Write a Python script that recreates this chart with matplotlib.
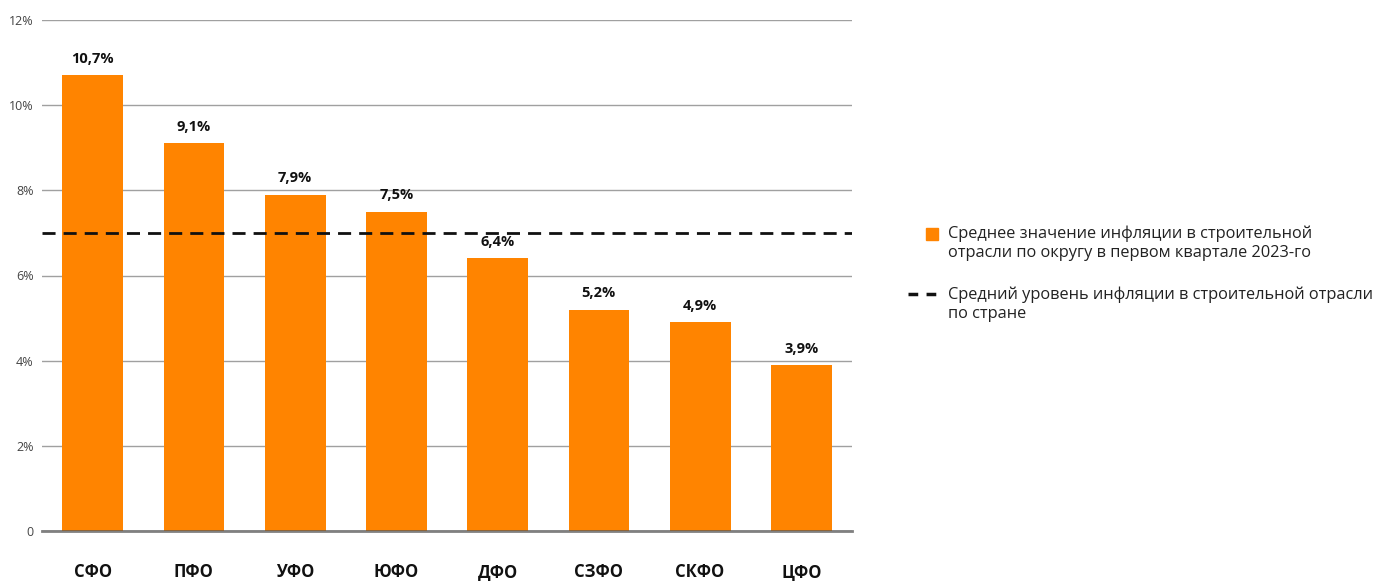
import matplotlib
matplotlib.use("Agg")
from matplotlib import pyplot as plt
from matplotlib.patches import Rectangle
from matplotlib.lines import Line2D

districts = ["СФО", "ПФО", "УФО", "ЮФО", "ДФО", "СЗФО", "СКФО", "ЦФО"]
inflation = [10.7, 9.1, 7.9, 7.5, 6.4, 5.2, 4.9, 3.9]
country_avg = 7.0
yticks = [0, 2, 4, 6, 8, 10, 12]
ytick_labels = ["0", "2%", "4%", "6%", "8%", "10%", "12%"]
legend_labels = ["Среднее значение инфляции в строительной\nотрасли по округу в первом квартале 2023-го",
                 "Средний уровень инфляции в строительной отрасли\nпо стране"]

orange = "#FF8400"
plt.rcParams['font.family'] = ['Open Sans', 'DejaVu Sans']

W, H = 1393, 581
fig = plt.figure(figsize=(W / 100, H / 100), dpi=100)
ax = fig.add_axes([42/W, 1 - 531/H, 810/W, 511/H])

x = range(len(districts))
ax.bar(x, inflation, width=0.6, color=orange, zorder=2)
for i, v in enumerate(inflation):
    ax.text(i, v + 0.22, f"{v:.1f}%".replace(".", ","), ha="center", va="bottom",
            fontsize=10.5, fontweight="bold", color="#111111")

ax.axhline(country_avg, color="#111111", lw=2, ls=(0, (4.7, 2.9)), zorder=3)

ax.set_xlim(-0.5, len(districts) - 0.5)
ax.set_ylim(0, 12)
ax.set_yticks(yticks)
ax.set_yticklabels(ytick_labels, fontsize=9, color="#444444")
ax.set_xticks(list(x))
ax.set_xticklabels(districts, fontsize=12, fontweight="bold", color="#111111")
ax.tick_params(axis="x", length=0, pad=23)
ax.tick_params(axis="y", length=0, pad=6)
ax.grid(axis="y", color="#a0a0a0", lw=1, zorder=0)
ax.axhline(0, color="#555555", lw=2, zorder=4, alpha=0.75, clip_on=False)
for s in ax.spines.values():
    s.set_visible(False)

# legend drawn in figure pixel coords
def fx(px):
    return px / W

def fy(py):
    return 1 - py / H

fig.add_artist(Rectangle((fx(926), fy(240)), 12 / W, 12 / H, color=orange,
                         transform=fig.transFigure))
fig.add_artist(Line2D([fx(908), fx(937)], [fy(294), fy(294)], color="#111111", lw=2.5,
                      ls=(0, (2.8, 2.4)), transform=fig.transFigure))
fig.text(fx(948), fy(243), legend_labels[0], fontsize=11.8, color="#222222",
         va="center", linespacing=1.22)
fig.text(fx(948), fy(304), legend_labels[1], fontsize=11.8, color="#222222",
         va="center", linespacing=1.22)

fig.savefig("out.png", dpi=100)
